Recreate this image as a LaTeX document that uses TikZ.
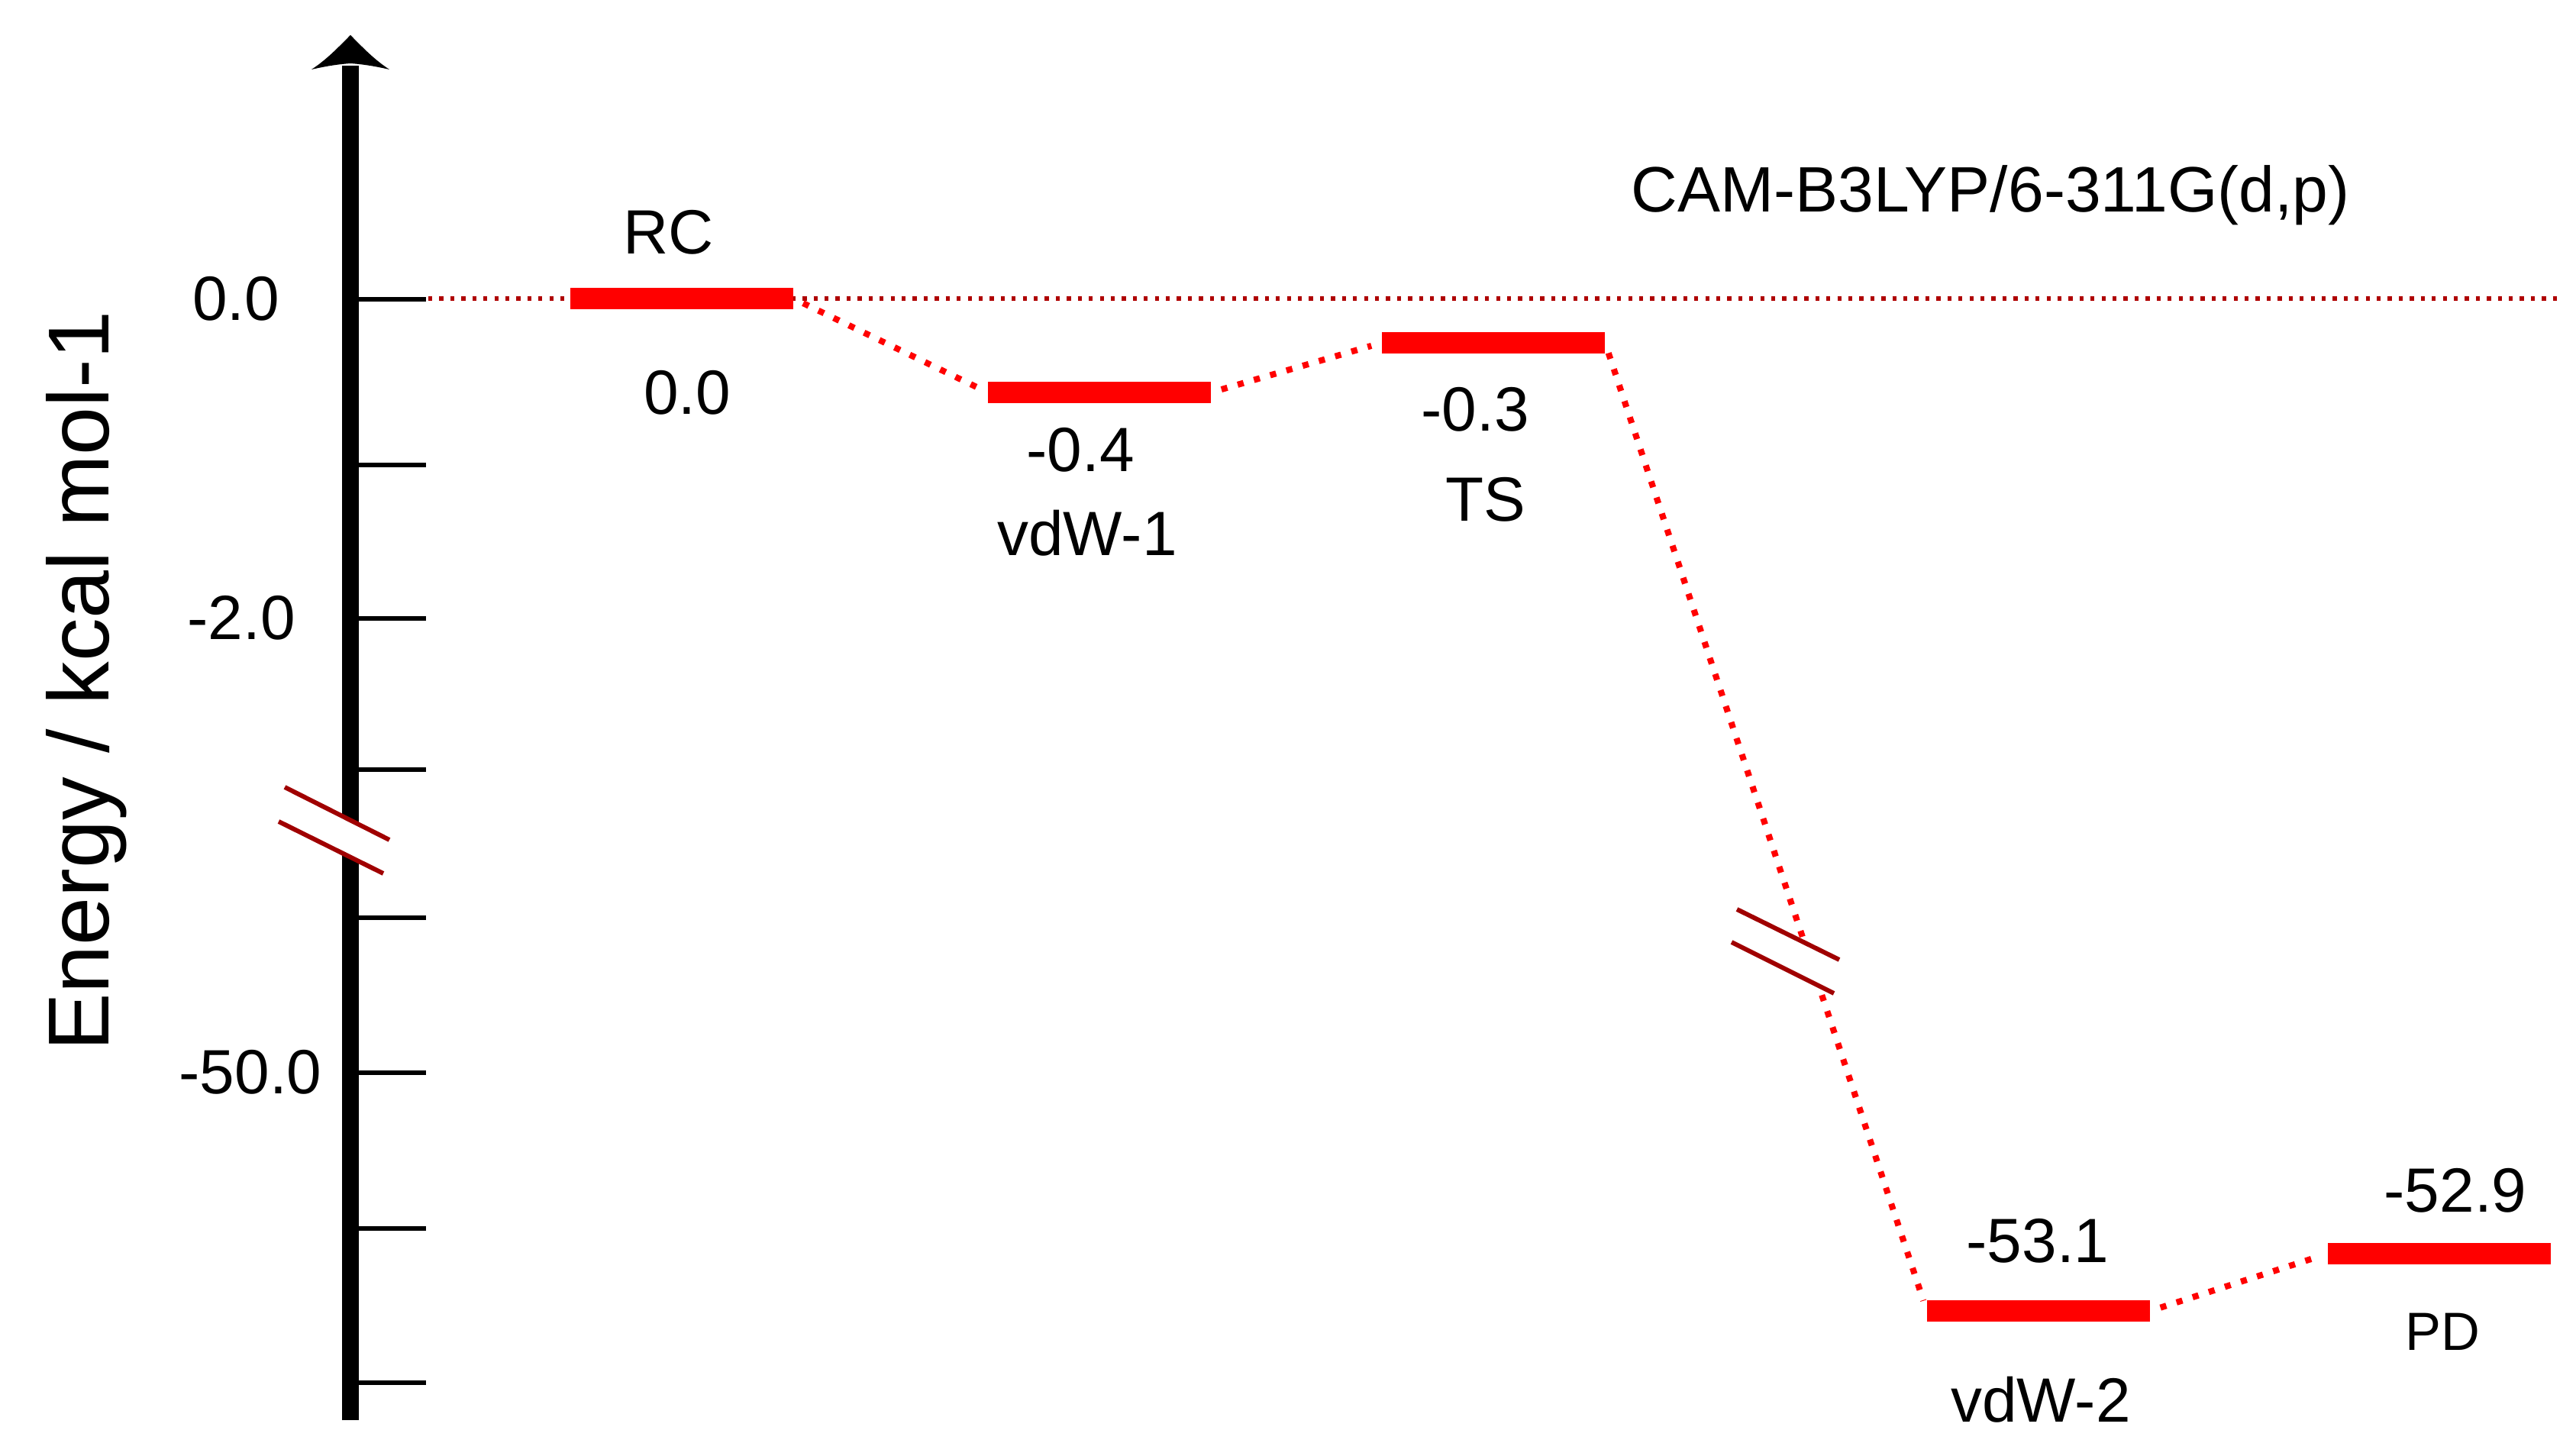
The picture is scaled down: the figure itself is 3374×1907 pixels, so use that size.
\documentclass[tikz,border=0pt]{standalone}
\usepackage{fontspec}
\setmainfont{Liberation Sans}
\definecolor{refred}{RGB}{175,0,0}
\definecolor{brkred}{RGB}{160,0,0}
\begin{document}
\begin{tikzpicture}[x=0.01cm,y=-0.01cm,
  lvl/.style={fill=red, draw=none, minimum width=2.91cm, minimum height=0.28cm, inner sep=0pt},
  lab/.style={font=\fontsize{23.3}{28}\selectfont, inner sep=0pt, anchor=base},
  smalllab/.style={font=\fontsize{20}{24}\selectfont, inner sep=0pt, anchor=base},
  conn/.style={red, line width=2.3pt, dash pattern=on 2.3pt off 4pt},
  refline/.style={refred, line width=1.6pt, dash pattern=on 1.5pt off 2.6pt},
  brk/.style={brkred, line width=1.7pt},
  tickline/.style={black, line width=1.8pt},
]
\useasboundingbox (0,0) rectangle (3374,1907);

% axis
\coordinate (ax0) at (459,1860);
\coordinate (ax1) at (459,86);
\draw[black, line width=6pt] (ax0) -- (ax1);
\fill[black] (459,46) .. controls (443,62) and (428,78) .. (408,91)
  .. controls (430,86) and (445,84) .. (459,83)
  .. controls (473,84) and (488,86) .. (510,91)
  .. controls (490,78) and (475,62) .. (459,46) -- cycle;

% ticks
\foreach \yy/\nm in {392/t0,609/t1,810/t2,1008/t3,1202/t4,1405/t5,1609/t6,1811/t7}{
  \coordinate (\nm a) at (459,\yy);
  \coordinate (\nm b) at (558,\yy);
  \draw[tickline] (\nm a) -- (\nm b);
}

% axis break
\coordinate (ab1) at (373,1031); \coordinate (ab2) at (510,1100);
\coordinate (ab3) at (502,1144); \coordinate (ab4) at (365,1076);
\fill[white] (ab1) -- (ab2) -- (ab3) -- (ab4) -- cycle;
\draw[brk] (ab1) -- (ab2);
\draw[brk] (ab4) -- (ab3);

% axis labels
\node[lab] (l00) at (309,420) {0.0};
\node[lab] (l20) at (316,838) {-2.0};
\node[lab] (l500) at (328,1433) {-50.0};
\node[font=\fontsize{32.2}{36}\selectfont, inner sep=0pt, anchor=base, rotate=90] (ytitle) at (143,892) {Energy / kcal mol-1};

% reference line
\coordinate (h0) at (561,391);
\coordinate (h1) at (3352,391);
\draw[refline] (h0) -- (h1);

% levels
\node[lvl] (RC) at (893,391) {};
\node[lvl] (vdW1) at (1440,514) {};
\node[lvl] (TS) at (1956,449) {};
\node[lvl] (vdW2) at (2670,1717) {};
\node[lvl] (PD) at (3195,1642) {};

% connectors
\draw[conn, shorten <=4pt, shorten >=4pt] (RC.east) -- (vdW1.west);
\draw[conn, shorten <=4pt, shorten >=4pt] (vdW1.east) -- (TS.west);
\draw[conn, shorten <=4pt, shorten >=4pt] (TS.east) -- (vdW2.west);
\draw[conn, shorten <=4pt, shorten >=4pt] (vdW2.east) -- (PD.west);

% connector break
\coordinate (cb1) at (2275,1191); \coordinate (cb2) at (2409,1257);
\coordinate (cb3) at (2402,1301); \coordinate (cb4) at (2268,1234);
\fill[white] (cb1) -- (cb2) -- (cb3) -- (cb4) -- cycle;
\draw[brk] (cb1) -- (cb2);
\draw[brk] (cb4) -- (cb3);

% labels
\node[lab] (RCn) at (876,333) {RC};
\node[lab] (RCe) at (900,543) {0.0};
\node[lab] (V1e) at (1415,618) {-0.4};
\node[lab] (V1n) at (1424,728) {vdW-1};
\node[lab] (TSe) at (1932,565) {-0.3};
\node[lab] (TSn) at (1946,683) {TS};
\node[lab] (V2e) at (2669,1654) {-53.1};
\node[lab] (V2n) at (2673,1863) {vdW-2};
\node[lab] (PDe) at (3216,1587) {-52.9};
\node[smalllab] (PDn) at (3199,1768) {PD};
\node[font=\fontsize{23.9}{28}\selectfont, inner sep=0pt, anchor=base] (meth) at (2607,278) {CAM-B3LYP/6-311G(d,p)};
\end{tikzpicture}
\end{document}
